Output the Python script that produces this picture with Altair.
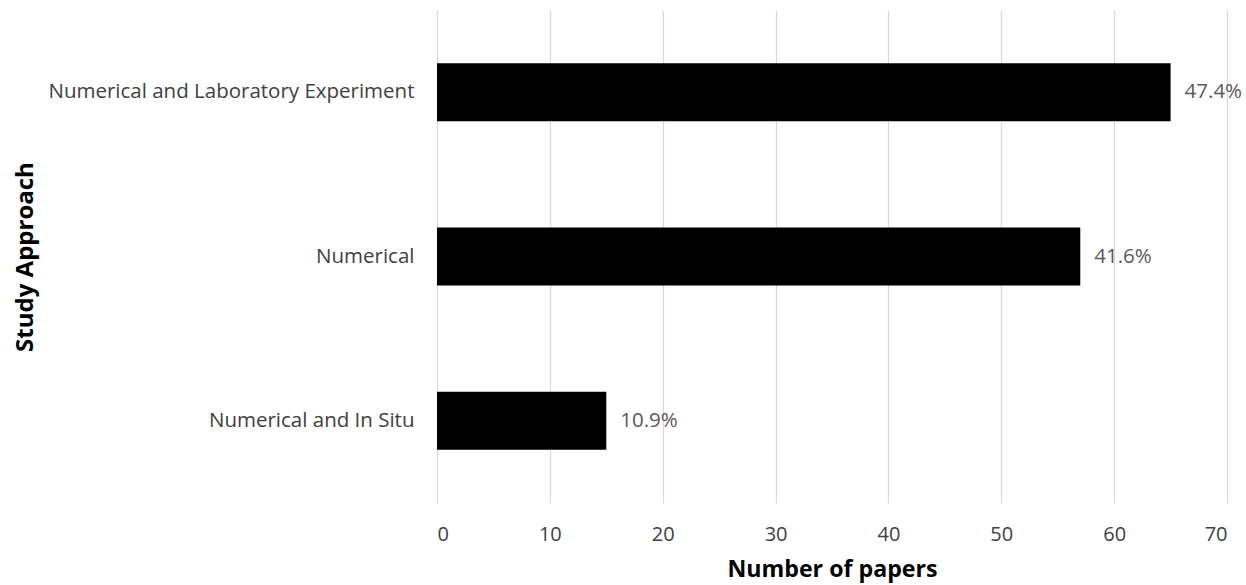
import altair as alt
import pandas as pd

# Study approaches and number of papers for each
approaches = ["Numerical and Laboratory Experiment", "Numerical", "Numerical and In Situ"]
papers = [65, 57, 15]

df = pd.DataFrame({"approach": approaches, "papers": papers})

FONT = "Open Sans"
TEXT = "#404040"

base = alt.Chart(df).transform_joinaggregate(
    total="sum(papers)"
).transform_calculate(
    share="datum.papers / datum.total"
)

y_enc = alt.Y(
    "approach:N",
    sort=approaches,
    scale=alt.Scale(paddingInner=0.647, paddingOuter=0.3235),
    axis=alt.Axis(
        title="Study Approach",
        titleFont=FONT,
        titleFontSize=24,
        titleFontWeight="bold",
        titleColor="#000000",
        titleX=-412,
        titleBaseline="middle",
        labelFont=FONT,
        labelFontSize=20.5,
        labelColor=TEXT,
        labelPadding=23,
        ticks=False,
        domain=False,
        labelLimit=420,
    ),
)

bars = base.mark_bar(color="#000000").encode(
    x=alt.X(
        "papers:Q",
        scale=alt.Scale(domain=[0, 70]),
        axis=alt.Axis(
            title="Number of papers",
            values=list(range(0, 71, 10)),
            titleFont=FONT,
            titleFontSize=23.2,
            titleFontWeight="bold",
            titleColor="#000000",
            titlePadding=14,
            labelFont=FONT,
            labelFontSize=20,
            labelColor=TEXT,
            labelPadding=21,
            ticks=False,
            domain=False,
            grid=True,
            gridColor="#d9d9d9",
            gridWidth=1.2,
        ),
    ),
    y=y_enc,
)

labels = base.mark_text(
    align="left", baseline="middle", dx=14, font=FONT, fontSize=20.5, color="#595959"
).encode(
    x="papers:Q",
    y=alt.Y("approach:N", sort=approaches),
    text=alt.Text("share:Q", format=".1%"),
)

chart = (
    alt.layer(bars, labels)
    .properties(
        width=790,
        height=493,
        background="#ffffff",
        autosize=alt.AutoSizeParams(type="none"),
        padding={"left": 437, "top": 10, "right": 19, "bottom": 82},
    )
    .configure_view(stroke=None)
)

chart.save("out.html", embed_options={"renderer": "svg", "actions": False})
